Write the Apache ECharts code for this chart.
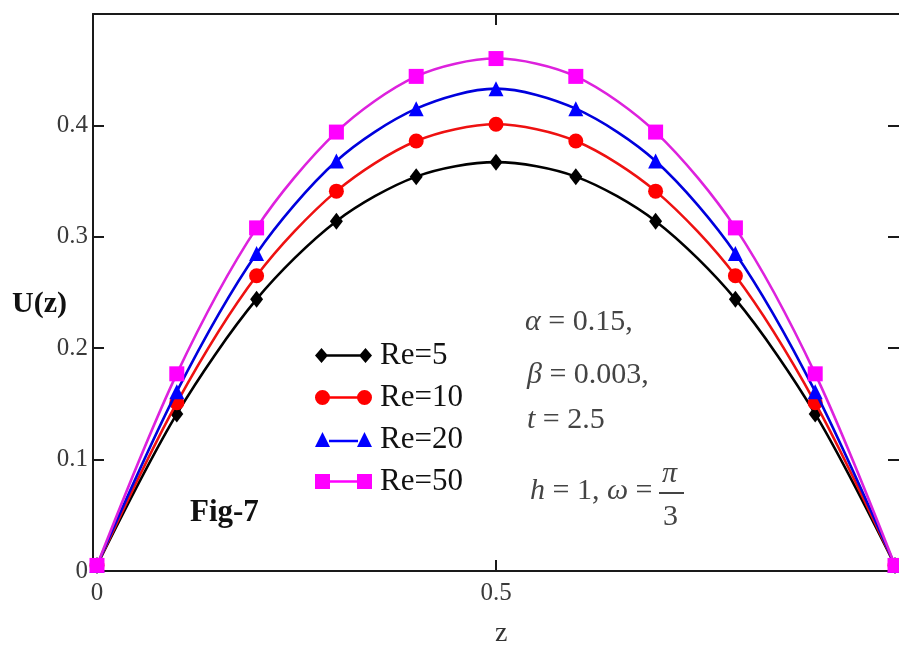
<!DOCTYPE html>
<html><head><meta charset="utf-8">
<script src="https://cdn.jsdelivr.net/npm/echarts@6/dist/echarts.min.js"></script>
<style>html,body{margin:0;padding:0;background:#fff}#c{width:899px;height:647px}</style>
</head><body><div id="c"></div>
<script>
// ---- data ----
const zValues = [0, 0.1, 0.2, 0.3, 0.4, 0.5, 0.6, 0.7, 0.8, 0.9, 1.0];
const re5  = [0.005, 0.141, 0.244, 0.314, 0.354, 0.367, 0.354, 0.314, 0.244, 0.141, 0.005];
const re10 = [0.005, 0.151, 0.265, 0.341, 0.386, 0.401, 0.386, 0.341, 0.265, 0.151, 0.005];
const re20 = [0.005, 0.161, 0.285, 0.368, 0.415, 0.433, 0.415, 0.368, 0.285, 0.161, 0.005];
const re50 = [0.005, 0.177, 0.308, 0.394, 0.444, 0.460, 0.444, 0.394, 0.308, 0.177, 0.005];
const seriesNames = ['Re=5', 'Re=10', 'Re=20', 'Re=50'];
const xTickLabels = [0, 0.5];
const yTickValues = [0, 0.1, 0.2, 0.3, 0.4];

const serif = '"Liberation Serif","Times New Roman",serif';
const axisColor = '#1a1a1a';
const pair = (vals) => zValues.map((z, i) => [z, vals[i]]);

const styles = [
  {color: '#000000', line: '#000000', symbol: 'diamond', size: [13, 17],
   icon: 'path://M0,7.5L6.5,0L13,7.5L6.5,15Z M12,6.3L45,6.3L45,8.7L12,8.7Z M44,7.5L50.5,0L57,7.5L50.5,15Z'},
  {color: '#ff0000', line: '#ee1111', symbol: 'circle', size: 15,
   icon: 'path://M0,7.5A7.5,7.5,0,1,1,15,7.5A7.5,7.5,0,1,1,0,7.5Z M14,6.3L43,6.3L43,8.7L14,8.7Z M42,7.5A7.5,7.5,0,1,1,57,7.5A7.5,7.5,0,1,1,42,7.5Z'},
  {color: '#0000ff', line: '#0000dd', symbol: 'triangle', size: 15,
   icon: 'path://M0,15L7.5,0L15,15Z M14,7.8L43,7.8L43,10.2L14,10.2Z M42,15L49.5,0L57,15Z'},
  {color: '#ff00ff', line: '#dd22dd', symbol: 'rect', size: 15,
   icon: 'path://M0,0L15,0L15,15L0,15Z M14,6.3L43,6.3L43,8.7L14,8.7Z M42,0L57,0L57,15L42,15Z'}
];
const dataSets = [re5, re10, re20, re50];

const chart = echarts.init(document.getElementById('c'), null, {renderer: 'canvas'});

const axisLine = {show: true, onZero: false, lineStyle: {color: axisColor, width: 2}};
const tickStyle = {color: axisColor, width: 2};

const option = {
  animation: false,
  backgroundColor: '#ffffff',
  grid: {left: 93, right: 0, top: 14, bottom: 76},
  xAxis: [
    {type: 'value', position: 'bottom', min: -0.005, max: 1.005,
     axisLine: axisLine,
     axisTick: {show: true, inside: true, length: 11, customValues: [0.5], lineStyle: tickStyle},
     axisLabel: {customValues: xTickLabels, fontFamily: serif, fontSize: 25, color: '#3a3a3a', margin: 10,
                 formatter: v => String(v)},
     splitLine: {show: false}},
    {type: 'value', position: 'top', min: -0.005, max: 1.005,
     axisLine: axisLine,
     axisTick: {show: true, inside: true, length: 11, customValues: [0.5], lineStyle: tickStyle},
     axisLabel: {show: false}, splitLine: {show: false}}
  ],
  yAxis: [
    {type: 'value', position: 'left', min: 0, max: 0.5,
     axisLine: axisLine,
     axisTick: {show: true, inside: true, length: 11, customValues: yTickValues, lineStyle: tickStyle},
     axisLabel: {customValues: yTickValues, fontFamily: serif, fontSize: 25, color: '#3a3a3a', margin: 5,
                 formatter: v => String(v)},
     splitLine: {show: false}},
    {type: 'value', position: 'right', min: 0, max: 0.5,
     axisLine: {show: false, onZero: false},
     axisTick: {show: true, inside: true, length: 11, customValues: yTickValues, lineStyle: tickStyle},
     axisLabel: {show: false}, splitLine: {show: false}}
  ],
  legend: {
    orient: 'vertical', left: 310, top: 335, itemWidth: 57, itemHeight: 15, itemGap: 11,
    textStyle: {fontFamily: serif, fontSize: 31, color: '#111', lineHeight: 29, padding: [0, 0, 0, 3]},
    data: seriesNames.map((n, i) => ({name: n, icon: styles[i].icon}))
  },
  series: seriesNames.map((n, i) => ({
    name: n, type: 'line', xAxisIndex: 0, yAxisIndex: 0,
    data: pair(dataSets[i]),
    smooth: 0.3,
    symbol: styles[i].symbol, symbolSize: styles[i].size,
    itemStyle: {color: styles[i].color},
    lineStyle: {color: styles[i].line, width: 2.6},
    z: 2 + i
  })),
  graphic: [
    {type: 'text', left: 12, top: 289, style: {text: 'U(z)', font: 'bold 30px ' + serif, fill: '#111'}},
    {type: 'text', left: 495, top: 620, style: {text: 'z', font: '28px ' + serif, fill: '#333'}},
    {type: 'text', left: 190, top: 497, style: {text: 'Fig-7', font: 'bold 31px ' + serif, fill: '#111'}},
    {type: 'text', left: 525, top: 307, style: {text: '{i|α} = 0.15,', font: '30px ' + serif, fill: '#444',
      rich: {i: {fontStyle: 'italic', fontFamily: serif, fontSize: 30, fill: '#444'}}}},
    {type: 'text', left: 527, top: 360, style: {text: '{i|β} = 0.003,', font: '30px ' + serif, fill: '#444',
      rich: {i: {fontStyle: 'italic', fontFamily: serif, fontSize: 30, fill: '#444'}}}},
    {type: 'text', left: 527, top: 405, style: {text: '{i|t} = 2.5', font: '30px ' + serif, fill: '#444',
      rich: {i: {fontStyle: 'italic', fontFamily: serif, fontSize: 30, fill: '#444'}}}},
    {type: 'text', left: 530, top: 476, style: {text: '{i|h} = 1, {i|ω} =', font: '30px ' + serif, fill: '#444',
      rich: {i: {fontStyle: 'italic', fontFamily: serif, fontSize: 30, fill: '#444'}}}},
    {type: 'text', left: 662, top: 459, style: {text: 'π', font: 'italic 30px ' + serif, fill: '#444'}},
    {type: 'rect', left: 659, top: 492, shape: {width: 25, height: 2}, style: {fill: '#444'}},
    {type: 'text', left: 663, top: 502, style: {text: '3', font: '30px ' + serif, fill: '#444'}}
  ]
};
chart.setOption(option);
</script>
</body></html>
